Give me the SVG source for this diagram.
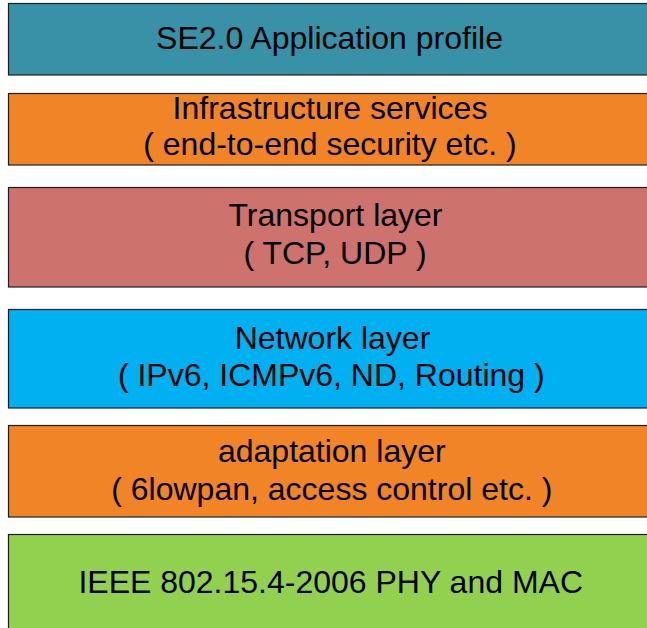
<svg xmlns="http://www.w3.org/2000/svg" width="647" height="628" viewBox="0 0 647 628">
<style>
.box{stroke:#1e1e1e;stroke-width:1.2}
.t{font-family:"Liberation Sans",Arial,sans-serif;font-size:32px;fill:#000;text-anchor:middle}
</style>
<rect width="647" height="628" fill="#ffffff"/>
<g id="app">
<rect class="box" x="8.5" y="3.5" width="660" height="71.5" fill="#3891A7"/>
<text class="t" x="329.5" y="48.5">SE2.0 Application profile</text>
</g>
<g id="infra">
<rect class="box" x="8.5" y="93.5" width="660" height="71.5" fill="#F08427"/>
<text class="t" x="330" y="118.5">Infrastructure services</text>
<text class="t" x="330" y="155">( end-to-end security etc. )</text>
</g>
<g id="transport">
<rect class="box" x="8.5" y="187.5" width="660" height="99.5" fill="#CD726C"/>
<text class="t" x="335.5" y="226">Transport layer</text>
<text class="t" x="335" y="263.5">( TCP, UDP )</text>
</g>
<g id="network">
<rect class="box" x="8.5" y="309.5" width="660" height="98.5" fill="#00B0F0"/>
<text class="t" x="332.5" y="348.5">Network layer</text>
<text class="t" x="331.3" y="385.8">( IPv6, ICMPv6, ND, Routing )</text>
</g>
<g id="adaptation">
<rect class="box" x="8.5" y="425.5" width="660" height="91.5" fill="#F08427"/>
<text class="t" x="331.8" y="461.8">adaptation layer</text>
<text class="t" x="331.8" y="500">( 6lowpan, access control etc. )</text>
</g>
<g id="phymac">
<rect class="box" x="8.5" y="534.5" width="660" height="100" fill="#92D050"/>
<text class="t" x="330.7" y="592.5">IEEE 802.15.4-2006 PHY and MAC</text>
</g>
<g id="connectors"></g>
</svg>
